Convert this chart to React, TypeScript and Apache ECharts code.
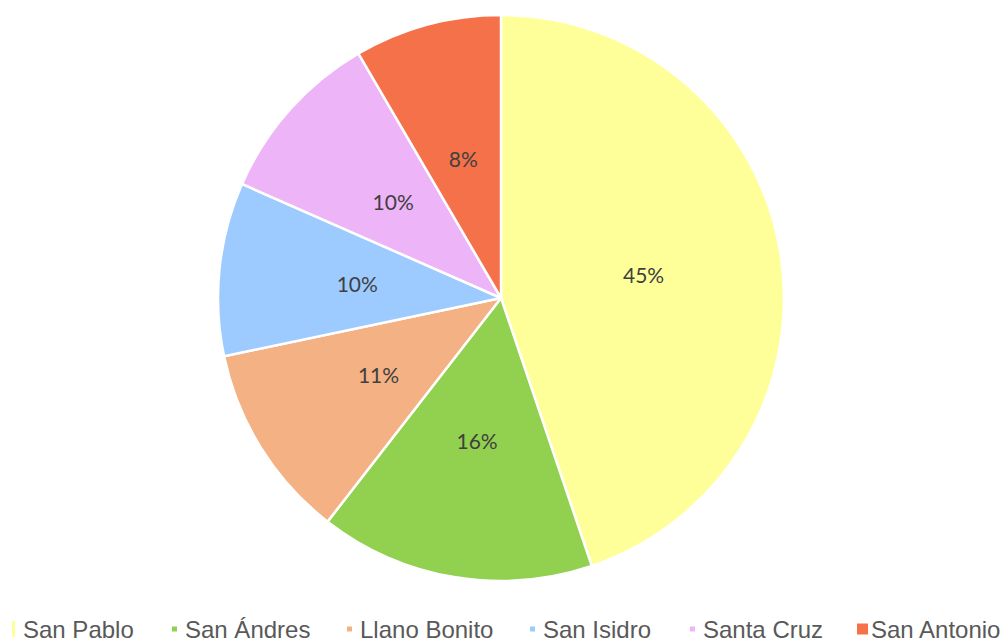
import React, { useEffect, useRef } from "react";
import * as echarts from "echarts";

const categories = ["San Pablo", "San Ándres", "Llano Bonito", "San Isidro", "Santa Cruz", "San Antonio"];
const values = [44.8, 15.7, 11.2, 9.9, 10.0, 8.4];
const colors = ["#FFFF99", "#92D050", "#F4B183", "#9DCBFF", "#EEB4F8", "#F5714A"];

const legendX = [10, 170, 345, 528, 688, 855];
const legendIcon = [
  [5, 18],
  [7, 7],
  [7, 7],
  [7, 7],
  [7, 7],
  [13, 13],
];
const legendTextPad = [2, 2, 2, 2, 2, -3];

export default function App() {
  const ref = useRef<HTMLDivElement>(null);
  useEffect(() => {
    if (!ref.current) return;
    const chart = echarts.init(ref.current, null, { renderer: "svg" });
    const legends = categories.map((name, i) => ({
      data: [name],
      left: legendX[i],
      top: 617,
      orient: "horizontal" as const,
      itemWidth: legendIcon[i][0],
      itemHeight: legendIcon[i][1],
      itemGap: 0,
      icon: "rect",
      padding: 0,
      textStyle: {
        fontSize: 24,
        color: "#595959",
        fontFamily: "Liberation Sans, Arial, sans-serif",
        padding: [0, 0, 0, legendTextPad[i]],
      },
    }));
    chart.setOption({
      animation: false,
      backgroundColor: "#ffffff",
      color: colors,
      legend: legends,
      series: [
        {
          type: "pie",
          center: [501, 298],
          radius: 283,
          startAngle: 90,
          clockwise: true,
          percentPrecision: 0,
          data: categories.map((name, i) => ({ name, value: values[i] })),
          itemStyle: { borderColor: "#ffffff", borderWidth: 2.5 },
          label: {
            position: "inside",
            formatter: "{d}%",
            fontSize: 21,
            color: "#404040",
            fontFamily: "Lato, Calibri, sans-serif",
          },
          labelLine: { show: false },
          emphasis: { disabled: true },
        },
      ],
    });
    return () => chart.dispose();
  }, []);
  return (
    <div
      ref={ref}
      style={{ position: "fixed", left: 0, top: 0, width: 1008, height: 641 }}
    />
  );
}
